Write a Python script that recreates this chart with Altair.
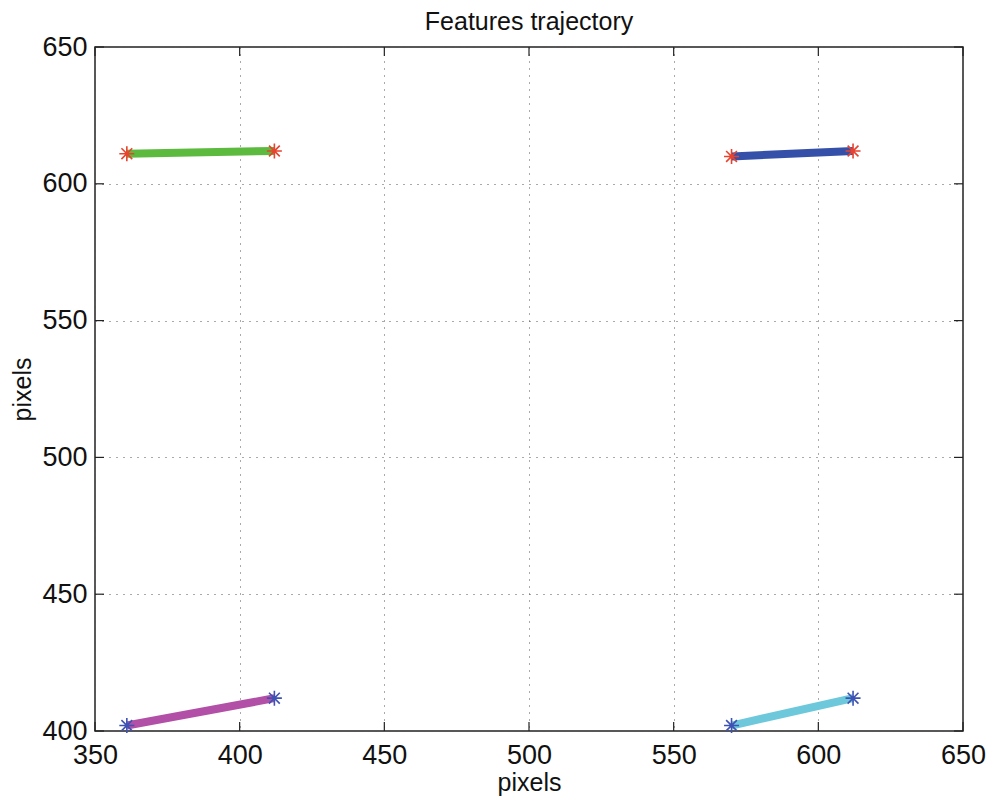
import altair as alt
import pandas as pd

# ---- data ----
tracks = ["green", "blue", "magenta", "cyan"]
x_start = [361, 570, 361, 570]
x_end = [412, 612, 412, 612]
y_start = [611, 610, 402, 402]
y_end = [612, 612, 412, 412]
line_colors = ["#5cbb3e", "#3550a8", "#b24fa6", "#6cc8da"]
star_groups = ["red", "red", "blue", "blue"]
star_colors = {"red": "#e8432e", "blue": "#3e52b4"}

x_ticks = [350, 400, 450, 500, 550, 600, 650]
y_ticks = [400, 450, 500, 550, 600, 650]

rows = []
for i, t in enumerate(tracks):
    rows.append({"track": t, "x": x_start[i], "y": y_start[i], "o": 0, "star": star_groups[i]})
    rows.append({"track": t, "x": x_end[i], "y": y_end[i], "o": 1, "star": star_groups[i]})
df = pd.DataFrame(rows)

xt = pd.DataFrame({"x": x_ticks})
yt = pd.DataFrame({"y": y_ticks})

W, H = 868, 684
FONT = "Liberation Sans"

xs = alt.Scale(domain=[350, 650], nice=False, zero=False)
ys = alt.Scale(domain=[400, 650], nice=False, zero=False)

common = dict(grid=True, ticks=False, domain=False, labelFlush=False,
              gridDash=[1, 6], gridColor="#555", gridWidth=1,
              labelFontSize=27, labelFont=FONT,
              titleFont=FONT, titleFontWeight="normal", labelColor="#111", titleColor="#111")
xaxis = alt.Axis(values=x_ticks, title="pixels", labelPadding=11, titlePadding=2,
                 titleFontSize=25, **common)
yaxis = alt.Axis(values=y_ticks, title="pixels", labelPadding=8, titlePadding=6,
                 titleFontSize=25, **common)

lines = alt.Chart(df).mark_line(strokeWidth=8, strokeCap="butt").encode(
    x=alt.X("x:Q", scale=xs, axis=xaxis),
    y=alt.Y("y:Q", scale=ys, axis=yaxis),
    color=alt.Color("track:N", scale=alt.Scale(domain=tracks, range=line_colors), legend=None),
    order="o:Q",
)

star_path = "M-1,0L1,0M0,-1L0,1M-0.72,-0.72L0.72,0.72M-0.72,0.72L0.72,-0.72"
stars = alt.Chart(df).mark_point(shape=star_path, filled=False, size=225, strokeWidth=1.6,
                                 opacity=1).encode(
    x=alt.X("x:Q", scale=xs),
    y=alt.Y("y:Q", scale=ys),
    stroke=alt.Stroke("star:N", scale=alt.Scale(domain=list(star_colors.keys()),
                                                range=list(star_colors.values())), legend=None),
)

TL = 9
tick_bottom = alt.Chart(xt).mark_rule(color="#222", strokeWidth=1.2).encode(
    x=alt.X("x:Q", scale=xs), y=alt.value(H), y2=alt.value(H - TL))
tick_top = alt.Chart(xt).mark_rule(color="#222", strokeWidth=1.2).encode(
    x=alt.X("x:Q", scale=xs), y=alt.value(0), y2=alt.value(TL))
tick_left = alt.Chart(yt).mark_rule(color="#222", strokeWidth=1.2).encode(
    y=alt.Y("y:Q", scale=ys), x=alt.value(0), x2=alt.value(TL))
tick_right = alt.Chart(yt).mark_rule(color="#222", strokeWidth=1.2).encode(
    y=alt.Y("y:Q", scale=ys), x=alt.value(W), x2=alt.value(W - TL))

chart = alt.layer(lines, stars, tick_bottom, tick_top, tick_left, tick_right).resolve_scale(
    color="independent"
).properties(
    width=W, height=H,
    title=alt.Title("Features trajectory", fontSize=25, font=FONT, fontWeight="normal",
                    color="#111", anchor="middle", offset=7, dy=29, baseline="alphabetic"),
    autosize=alt.AutoSizeParams(type="none"),
    padding={"left": 87, "top": 39, "right": 24, "bottom": 66},
).configure(background="white").configure_view(stroke="#222", strokeWidth=1.5)

chart.save("out.html", embed_options={"renderer": "svg", "actions": False})
